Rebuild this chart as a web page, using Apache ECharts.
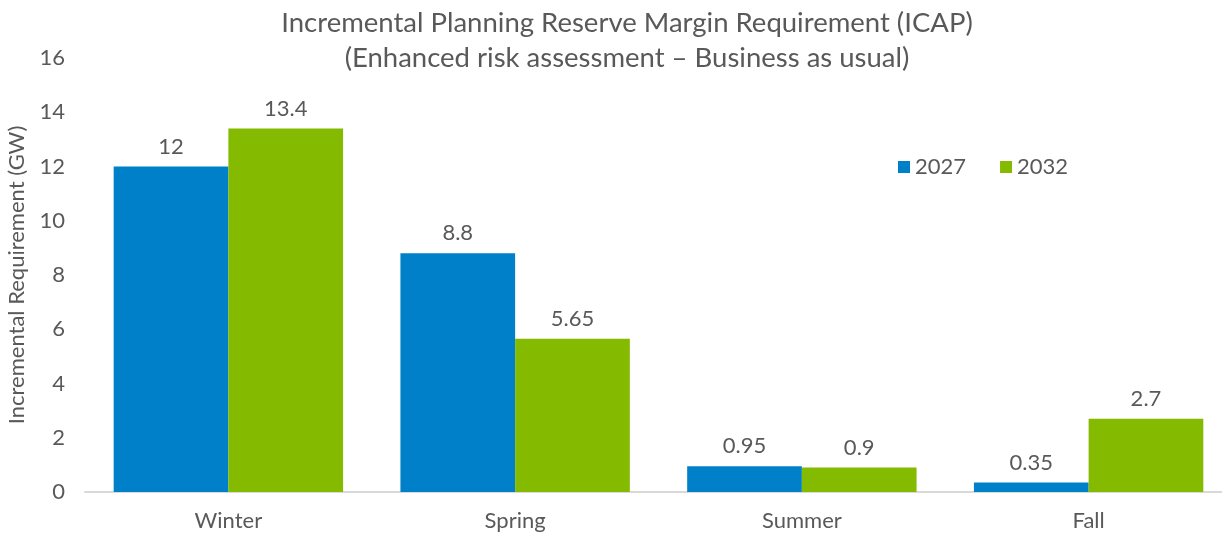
<!DOCTYPE html>
<html>
<head>
<meta charset="utf-8">
<script src="https://cdn.jsdelivr.net/npm/echarts@6/dist/echarts.min.js"></script>
<style>
  html, body { margin: 0; padding: 0; background: #fff; }
  #chart { width: 1222px; height: 533px; }
</style>
</head>
<body>
<div id="chart"></div>
<script>
// 数据
var seasons = ['Winter', 'Spring', 'Summer', 'Fall'];
var years = ['2027', '2032'];
var values2027 = [12, 8.8, 0.95, 0.35];
var values2032 = [13.4, 5.65, 0.9, 2.7];

var textColor = '#595959';
var myChart = echarts.init(document.getElementById('chart'));

var option = {
    animation: false,
    textStyle: { fontFamily: 'Lato' },
    title: {
        text: 'Incremental Planning Reserve Margin Requirement (ICAP)\n(Enhanced risk assessment \u2013 Business as usual)',
        left: 622,
        top: 1,
        textAlign: 'center',
        textStyle: {
            fontFamily: 'Lato',
            fontWeight: 'normal',
            fontSize: 27.5,
            lineHeight: 35,
            color: textColor
        }
    },
    legend: {
        data: years,
        left: 893,
        top: 151,
        itemWidth: 12,
        itemHeight: 12,
        itemGap: 34,
        icon: 'rect',
        textStyle: { fontFamily: 'Lato', fontSize: 22, color: textColor }
    },
    grid: {
        left: 85,
        right: -10,
        top: 58,
        bottom: 41,
        outerBoundsMode: 'none',
        containLabel: false
    },
    xAxis: {
        type: 'category',
        data: seasons,
        axisLine: { lineStyle: { color: '#d9d9d9', width: 2 } },
        axisTick: { show: false },
        axisLabel: { fontFamily: 'Lato', fontSize: 22, color: textColor, margin: 18 }
    },
    yAxis: {
        type: 'value',
        min: 0,
        max: 16,
        interval: 2,
        name: 'Incremental Requirement (GW)',
        nameLocation: 'middle',
        nameGap: 57,
        nameTextStyle: { fontFamily: 'Lato', fontSize: 22, color: textColor },
        axisLine: { show: false },
        axisTick: { show: false },
        splitLine: { show: false },
        axisLabel: { fontFamily: 'Lato', fontSize: 22, color: textColor, margin: 20 }
    },
    series: [
        {
            name: '2027',
            type: 'bar',
            data: values2027,
            barGap: '0%',
            barCategoryGap: '20%',
            itemStyle: { color: '#0080C8' },
            label: { show: true, position: 'top', distance: 9, fontFamily: 'Lato', fontSize: 22, color: textColor }
        },
        {
            name: '2032',
            type: 'bar',
            data: values2032,
            barGap: '0%',
            barCategoryGap: '20%',
            itemStyle: { color: '#84BA00' },
            label: { show: true, position: 'top', distance: 9, fontFamily: 'Lato', fontSize: 22, color: textColor }
        }
    ]
};

myChart.setOption(option);
</script>
</body>
</html>
